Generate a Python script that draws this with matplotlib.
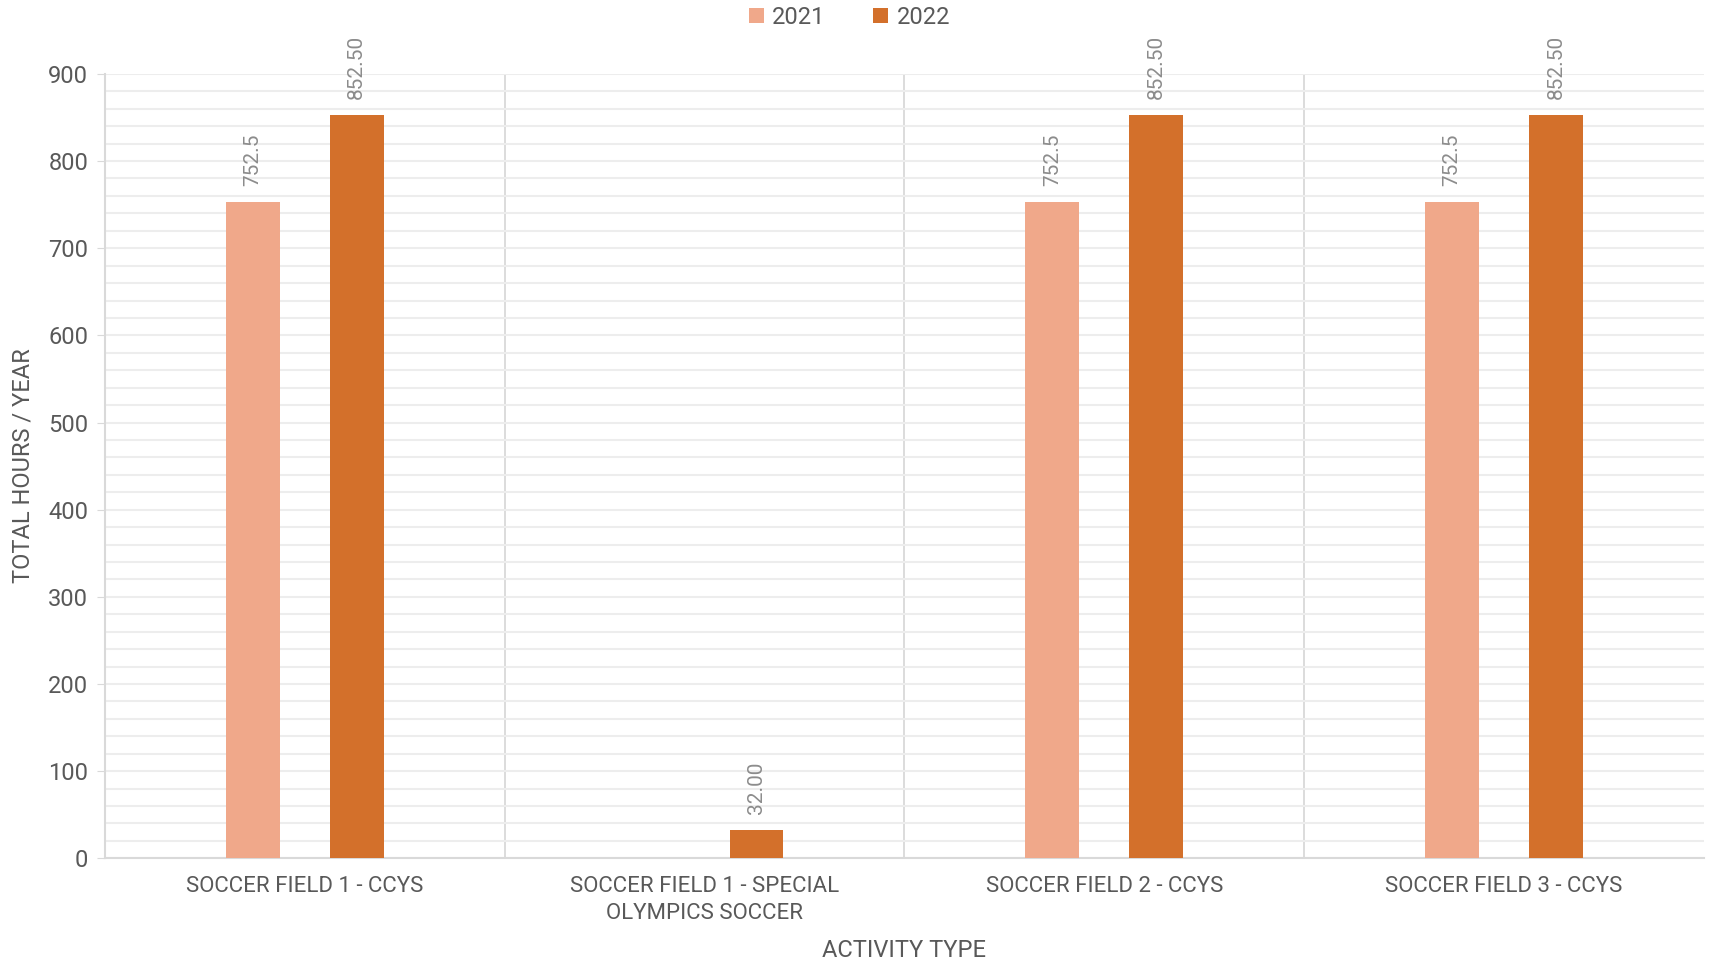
import matplotlib
matplotlib.use("Agg")
import matplotlib.pyplot as plt
from matplotlib.ticker import MultipleLocator
import numpy as np

plt.rcParams['font.family'] = ['Roboto', 'DejaVu Sans']

# data
categories = ["SOCCER FIELD 1 - CCYS", "SOCCER FIELD 1 - SPECIAL\nOLYMPICS SOCCER",
              "SOCCER FIELD 2 - CCYS", "SOCCER FIELD 3 - CCYS"]
years = ["2021", "2022"]
hours_2021 = [752.5, None, 752.5, 752.5]
hours_2022 = [852.5, 32.0, 852.5, 852.5]
labels_2021 = ["752.5", "", "752.5", "752.5"]
labels_2022 = ["852.50", "32.00", "852.50", "852.50"]

col_2021 = "#F0A88A"
col_2022 = "#D3702B"
grid_col = "#EDEDED"
axis_col = "#D9D9D9"
txt_col = "#595959"
lab_col = "#8C8C8C"

fig = plt.figure(figsize=(17.09, 9.6), dpi=100)
ax = fig.add_axes([0.0614, 0.106, 0.9356, 0.817])

x = np.arange(len(categories))
w = 0.135
off = 0.13

v21 = [v if v is not None else 0 for v in hours_2021]
b1 = ax.bar(x - off, v21, w, color=col_2021, label=years[0], zorder=3)
b2 = ax.bar(x + off, hours_2022, w, color=col_2022, label=years[1], zorder=3)

for i in range(len(categories)):
    if hours_2021[i] is not None:
        ax.annotate(labels_2021[i], (x[i] - off, hours_2021[i]), xytext=(0, 12),
                    textcoords="offset points", rotation=90, ha="center", va="bottom",
                    fontsize=15, color=lab_col)
    ax.annotate(labels_2022[i], (x[i] + off, hours_2022[i]), xytext=(0, 12),
                textcoords="offset points", rotation=90, ha="center", va="bottom",
                fontsize=15, color=lab_col)

ax.set_xlim(-0.5, len(categories) - 0.5)
ax.set_ylim(0, 900)
ax.yaxis.set_major_locator(MultipleLocator(100))
ax.yaxis.set_minor_locator(MultipleLocator(20))
ax.grid(axis="y", which="both", color=grid_col, linewidth=1.5, zorder=0)

# category separators
for b in np.arange(0.5, len(categories) - 0.5, 1.0):
    ax.axvline(b, color=axis_col, linewidth=1.3, zorder=1)

for s in ["top", "right"]:
    ax.spines[s].set_visible(False)
ax.spines["left"].set_color(axis_col)
ax.spines["bottom"].set_color(axis_col)
ax.spines["left"].set_linewidth(1.5)
ax.spines["bottom"].set_linewidth(1.5)

ax.set_xticks(x)
ax.set_xticklabels(categories, fontsize=16, color=txt_col, linespacing=1.35)
ax.tick_params(axis="x", length=0, pad=13)
ax.tick_params(axis="y", which="major", length=6, color=axis_col, labelsize=17, labelcolor=txt_col, pad=6)
ax.tick_params(axis="y", which="minor", length=0)

ax.set_ylabel("TOTAL HOURS / YEAR", fontsize=17, color=txt_col, labelpad=10)
ax.set_xlabel("ACTIVITY TYPE", fontsize=17, color=txt_col, labelpad=11)

fig.legend(handles=[b1, b2], labels=years, loc="upper center", bbox_to_anchor=(0.497, 1.016),
           ncol=2, frameon=False, fontsize=17, handlelength=0.65, handleheight=0.65,
           columnspacing=2.0, handletextpad=0.35, labelcolor=txt_col)

fig.savefig("out.png", dpi=100)
